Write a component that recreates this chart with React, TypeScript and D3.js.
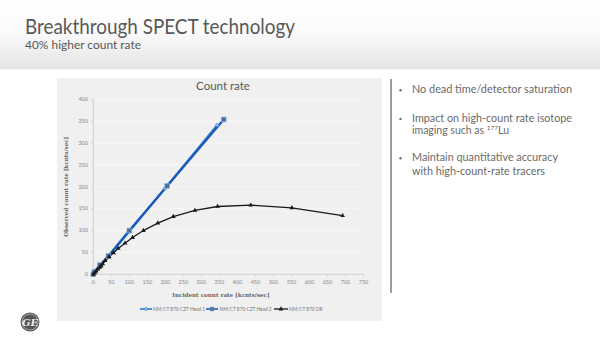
import React from "react";
import * as d3 from "d3";

const xTicks = [0, 50, 100, 150, 200, 250, 300, 350, 400, 450, 500, 550, 600, 650, 700, 750];
const yTicks = [0, 50, 100, 150, 200, 250, 300, 350, 400];

const head1X = [0, 5, 19, 40, 99, 199, 344];
const head1Y = [0, 5, 19, 39, 97, 196, 341];
const head2X = [0, 3, 18, 42, 100, 205, 362];
const head2Y = [0, 6, 21, 42, 100, 202, 354];
const drX = [0, 4, 8, 13, 18, 22, 26, 33, 44, 56, 69, 88, 109, 139, 179, 222, 282, 345, 437, 551, 692];
const drY = [0, 3, 7, 12, 16, 19, 24, 31, 40, 49, 59, 71, 84, 100, 117, 132, 146, 155, 158, 152, 134];

const seriesNames = ["NM/CT 870 CZT Head 1", "NM/CT 870 CZT Head 2", "NM/CT 870 DR"];

const bullets = [
  ["No dead time/detector saturation"],
  ["Impact on high-count rate isotope", "imaging such as "],
  ["Maintain quantitative accuracy", "with high-count-rate tracers"],
];

export default function App() {
  const x = d3.scaleLinear().domain([0, 750]).range([93.3, 363.5]);
  const y = d3.scaleLinear().domain([0, 400]).range([274.3, 99.3]);
  const line = d3.line<[number, number]>().x((d) => x(d[0])).y((d) => y(d[1]));
  const h1 = head1X.map((v, i) => [v, head1Y[i]] as [number, number]);
  const h2 = head2X.map((v, i) => [v, head2Y[i]] as [number, number]);
  const dr = drX.map((v, i) => [v, drY[i]] as [number, number]);
  const tri = d3.symbol().type(d3.symbolTriangle).size(10)();
  const font = "Lato, 'Open Sans', sans-serif";
  const blue1 = "#2b7ad0";
  const blue2 = "#1a5bb8";
  const txt = "#6a6a6a";

  return (
    <svg width={600} height={337} style={{ position: "absolute", left: 0, top: 0 }} fontFamily={font}>
      <defs>
        <linearGradient id="hdr" x1="0" y1="0" x2="0" y2="1">
          <stop offset="0" stopColor="#ffffff" />
          <stop offset="0.45" stopColor="#fbfbfb" />
          <stop offset="1" stopColor="#e4e4e4" />
        </linearGradient>
      </defs>
      <rect x={0} y={0} width={600} height={337} fill="#ffffff" />
      <rect x={0} y={0} width={600} height={69} fill="url(#hdr)" />
      <line x1={0} x2={600} y1={69.5} y2={69.5} stroke="#f6f6f6" />
      <text x={25} y={34} fontSize={21} fill="#585858" textLength={270} lengthAdjust="spacingAndGlyphs">
        Breakthrough SPECT technology
      </text>
      <text x={25} y={49} fontSize={12} fill="#585858" textLength={116} lengthAdjust="spacingAndGlyphs">
        40% higher count rate
      </text>

      {/* chart panel */}
      <rect x={57} y={78} width={325} height={243} fill="#f0f0f0" />
      <text x={223} y={90} fontSize={11.5} fill="#595959" textAnchor="middle">
        Count rate
      </text>
      {yTicks.slice(1).map((t) => (
        <line key={t} x1={93.3} x2={363.5} y1={y(t)} y2={y(t)} stroke="#fafafa" strokeWidth={0.8} />
      ))}
      <line x1={93.3} x2={93.3} y1={99.3} y2={274.3} stroke="#c8c8c8" strokeWidth={0.8} />
      <line x1={93.3} x2={363.5} y1={274.3} y2={274.3} stroke="#c8c8c8" strokeWidth={0.8} />
      {yTicks.map((t) => (
        <g key={t}>
          <line x1={91} x2={93.3} y1={y(t)} y2={y(t)} stroke="#c8c8c8" strokeWidth={0.6} />
          <text x={88} y={y(t) + 1.8} fontSize={5.5} fill="#888" textAnchor="end">
            {t}
          </text>
        </g>
      ))}
      {xTicks.map((t) => (
        <g key={t}>
          <line x1={x(t)} x2={x(t)} y1={274.3} y2={276.5} stroke="#c8c8c8" strokeWidth={0.6} />
          <text x={x(t)} y={283.5} fontSize={5.5} fill="#888" textAnchor="middle">
            {t}
          </text>
        </g>
      ))}
      <text x={221} y={297} fontSize={5.6} fontWeight="bold" fill="#666" textAnchor="middle" fontFamily="'DejaVu Serif', serif">
        Incident  count rate [kcnts/sec]
      </text>
      <text
        transform={`translate(68,${(99.3 + 274.3) / 2}) rotate(-90)`}
        fontSize={5.6}
        fontWeight="bold"
        fill="#666"
        textAnchor="middle"
        fontFamily="'DejaVu Serif', serif"
      >
        Observed count rate [kcnts/sec]
      </text>

      {/* series */}
      <path d={line(h1) ?? ""} fill="none" stroke={blue1} strokeWidth={2.2} />
      <path d={line(h2) ?? ""} fill="none" stroke={blue2} strokeWidth={2.2} />
      <path d={line(dr) ?? ""} fill="none" stroke="#1a1a1a" strokeWidth={1.3} />
      {h1.map((d, i) => (
        <circle key={i} cx={x(d[0])} cy={y(d[1])} r={1.6} fill="#9cc3ea" stroke={blue1} strokeWidth={0.6} />
      ))}
      {h2.map((d, i) => (
        <rect key={i} x={x(d[0]) - 2.4} y={y(d[1]) - 2.4} width={4.8} height={4.8} fill="#4f6f9c" stroke="#8fb2dc" strokeWidth={0.6} />
      ))}
      {dr.map((d, i) => (
        <path key={i} d={tri ?? ""} transform={`translate(${x(d[0])},${y(d[1])})`} fill="#1a1a1a" />
      ))}

      {/* legend */}
      <line x1={140} x2={152} y1={309} y2={309} stroke={blue1} strokeWidth={1.6} />
      <circle cx={146} cy={309} r={1.5} fill="#9cc3ea" stroke={blue1} strokeWidth={0.6} />
      <text x={153} y={310.8} fontSize={4.8} fill="#777">{seriesNames[0]}</text>
      <line x1={206} x2={218} y1={309} y2={309} stroke={blue2} strokeWidth={1.6} />
      <rect x={210} y={307} width={4} height={4} fill="#4f6f9c" stroke="#8fb2dc" strokeWidth={0.5} />
      <text x={219.5} y={310.8} fontSize={4.8} fill="#777">{seriesNames[1]}</text>
      <line x1={274} x2={288} y1={309} y2={309} stroke="#1a1a1a" strokeWidth={1.3} />
      <path d={tri ?? ""} transform="translate(281,309)" fill="#1a1a1a" />
      <text x={289} y={310.8} fontSize={4.8} fill="#777">{seriesNames[2]}</text>

      {/* divider */}
      <line x1={391} x2={391} y1={79} y2={293} stroke="#666" strokeWidth={1.3} />

      {/* bullets */}
      {[90.2, 118.9, 158.2].map((yy, i) => (
        <circle key={i} cx={400.5} cy={yy} r={1.2} fill={txt} />
      ))}
      <text x={412} y={93} fontSize={10.5} fill={txt} textLength={160} lengthAdjust="spacingAndGlyphs">
        {bullets[0][0]}
      </text>
      <text x={412} y={121.7} fontSize={10.5} fill={txt} textLength={160} lengthAdjust="spacingAndGlyphs">
        {bullets[1][0]}
      </text>
      <text x={412} y={134.3} fontSize={10.5} fill={txt}>
        {bullets[1][1]}
        <tspan fontSize={6.5} dy={-4}>177</tspan>
        <tspan dy={4}>Lu</tspan>
      </text>
      <text x={412} y={161} fontSize={10.5} fill={txt} textLength={146} lengthAdjust="spacingAndGlyphs">
        {bullets[2][0]}
      </text>
      <text x={412} y={174.5} fontSize={10.5} fill={txt} textLength={133} lengthAdjust="spacingAndGlyphs">
        {bullets[2][1]}
      </text>

      {/* GE logo */}
      <circle cx={30} cy={322} r={9.5} fill="#555" />
      <circle cx={30} cy={322} r={8} fill="none" stroke="#ddd" strokeWidth={0.6} />
      <text x={30} y={325.5} fontSize={10} fill="#eee" textAnchor="middle" fontStyle="italic" fontWeight="bold" fontFamily="'DejaVu Serif', serif">
        GE
      </text>
    </svg>
  );
}
